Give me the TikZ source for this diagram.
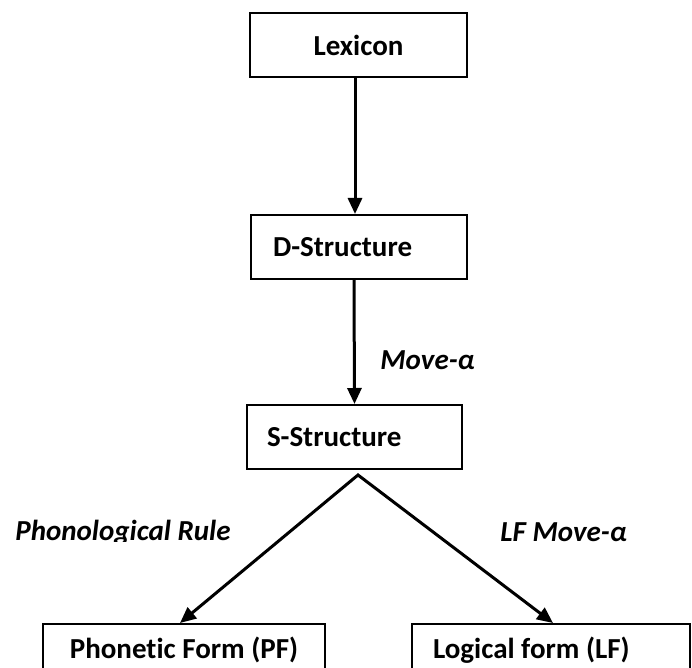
\documentclass[tikz,border=0pt]{standalone}
\usepackage{fontspec}
\setmainfont{Carlito}[Ligatures=NoCommon]
\usetikzlibrary{arrows.meta}
\newcommand{\lft}[2]{\makebox[#1][l]{#2}}
\tikzset{
  box/.style={draw, line width=1pt, minimum height=32pt, inner ysep=0pt, font=\fontsize{14.5pt}{16pt}\selectfont\bfseries},
  cbox/.style={box, inner xsep=0pt, minimum width=#1},
  lbox/.style={box, inner xsep=#1},
  rlabel/.style={font=\fontsize{14.5pt}{16pt}\selectfont\bfseries\itshape, inner sep=0pt, anchor=base west},
  arr/.style={line width=1.5pt, -{Triangle[length=8pt,width=7pt]}},
  arr2/.style={line width=1.5pt, {Triangle[length=8pt,width=7pt]}-{Triangle[length=8pt,width=7pt]}}
}
\begin{document}
\begin{tikzpicture}[x=0.5pt,y=-0.5pt]
\clip (0,0) rectangle (692,668);
\fill[white] (0,0) rectangle (692,668);
\node[cbox=108.5pt] (lex) at (358.5,45) {Lexicon};
\node[lbox=11pt] (ds) at (359,247) {\lft{86pt}{D-Structure}};
\node[lbox=10pt] (ss) at (354.5,437) {\lft{87.5pt}{S-Structure}};
\node[cbox=141pt, minimum height=26pt] (pf) at (184,650) {Phonetic Form (PF)};
\node[lbox=10.5pt, minimum height=26pt] (lf) at (551,650) {\lft{118pt}{Logical form (LF)}};
\coordinate (apex) at (358,475);
\draw[arr] ([xshift=-1.75pt]lex.south) -- ([xshift=-2pt]ds.north);
\draw[arr] ([xshift=-2.5pt]ds.south) -- (ss.north);
\draw[arr2, line join=miter] ([xshift=-2pt]pf.north) -- (apex) -- ([xshift=1pt]lf.north);
\node[rlabel] (mv) at (380,370) {Move-α};
\begin{scope}
\clip (0,500) rectangle (260,542);
\node[rlabel] (pr) at (15,541) {Phonological Rule};
\end{scope}
\node[rlabel] (lfm) at (500,542) {LF Move-α};
\end{tikzpicture}
\end{document}
